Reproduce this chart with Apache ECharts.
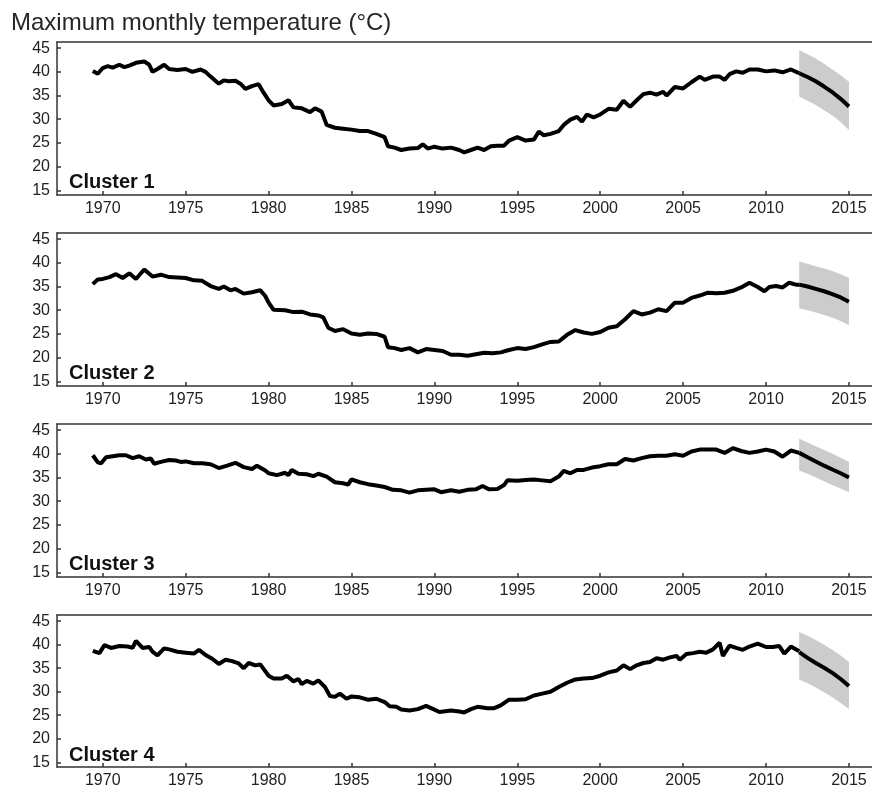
<!DOCTYPE html>
<html>
<head>
<meta charset="utf-8">
<script src="https://cdn.jsdelivr.net/npm/echarts@6/dist/echarts.min.js"></script>
<style>html,body{margin:0;padding:0;background:#fff}#c{width:872px;height:789px}</style>
</head>
<body>
<div id="c"></div>
<script>
// ---- DATA (year, temperature °C) ----
const titleText = 'Maximum monthly temperature (\u00B0C)';
const clusterNames = ['Cluster 1', 'Cluster 2', 'Cluster 3', 'Cluster 4'];
const xTicks = [1970, 1975, 1980, 1985, 1990, 1995, 2000, 2005, 2010, 2015];
const yTicks = [15, 20, 25, 30, 35, 40, 45];

const cluster1 = [[1969.4,40.2],[1969.7,39.6],[1970.0,40.8],[1970.3,41.2],[1970.6,40.9],[1971.0,41.5],[1971.3,41.0],[1971.6,41.3],[1972.0,41.9],[1972.5,42.2],[1972.8,41.5],[1973.0,40.0],[1973.3,40.6],[1973.7,41.5],[1974.0,40.6],[1974.5,40.4],[1975.0,40.6],[1975.4,40.0],[1975.9,40.5],[1976.2,40.0],[1976.5,39.0],[1977.0,37.5],[1977.3,38.2],[1977.6,38.0],[1978.0,38.1],[1978.3,37.5],[1978.6,36.4],[1979.0,37.0],[1979.4,37.4],[1979.7,35.6],[1980.0,34.0],[1980.3,32.9],[1980.8,33.2],[1981.2,34.0],[1981.5,32.5],[1982.0,32.3],[1982.5,31.5],[1982.8,32.3],[1983.2,31.6],[1983.5,28.8],[1984.0,28.2],[1984.5,28.0],[1985.0,27.8],[1985.5,27.5],[1986.0,27.5],[1986.5,26.9],[1987.0,26.2],[1987.2,24.3],[1987.6,24.0],[1988.0,23.5],[1988.5,23.8],[1989.0,23.9],[1989.3,24.7],[1989.6,23.8],[1990.0,24.2],[1990.5,23.8],[1991.0,24.0],[1991.5,23.5],[1991.8,23.0],[1992.2,23.5],[1992.6,24.0],[1993.0,23.5],[1993.4,24.3],[1993.8,24.4],[1994.2,24.4],[1994.5,25.5],[1995.0,26.2],[1995.5,25.5],[1996.0,25.7],[1996.3,27.4],[1996.6,26.6],[1997.0,26.9],[1997.5,27.5],[1997.8,28.8],[1998.2,29.9],[1998.6,30.5],[1998.9,29.5],[1999.2,31.0],[1999.6,30.4],[2000.0,31.0],[2000.5,32.2],[2001.0,32.0],[2001.4,33.9],[2001.8,32.6],[2002.2,34.0],[2002.6,35.3],[2003.0,35.6],[2003.4,35.2],[2003.8,35.8],[2004.0,35.0],[2004.5,36.8],[2005.0,36.5],[2005.5,37.8],[2006.0,39.0],[2006.3,38.3],[2006.8,39.0],[2007.2,39.0],[2007.5,38.3],[2007.8,39.5],[2008.2,40.1],[2008.6,39.8],[2009.0,40.5],[2009.5,40.5],[2010.0,40.1],[2010.5,40.3],[2011.0,39.9],[2011.5,40.5],[2012.0,39.7]];
const cluster2 = [[1969.4,35.5],[1969.7,36.5],[1970.0,36.6],[1970.4,37.0],[1970.8,37.6],[1971.2,36.8],[1971.6,37.8],[1972.0,36.6],[1972.5,38.6],[1973.0,37.1],[1973.5,37.5],[1974.0,37.0],[1974.5,36.9],[1975.0,36.8],[1975.5,36.3],[1976.0,36.2],[1976.5,35.1],[1977.0,34.5],[1977.3,35.0],[1977.7,34.2],[1978.0,34.5],[1978.5,33.5],[1979.0,33.8],[1979.5,34.2],[1979.8,33.0],[1980.0,31.6],[1980.3,30.1],[1981.0,30.0],[1981.5,29.6],[1982.0,29.7],[1982.5,29.1],[1983.0,28.9],[1983.3,28.5],[1983.6,26.3],[1984.0,25.6],[1984.5,26.0],[1985.0,25.1],[1985.5,24.8],[1986.0,25.1],[1986.5,25.0],[1987.0,24.4],[1987.2,22.2],[1987.6,22.0],[1988.0,21.6],[1988.5,22.0],[1989.0,21.1],[1989.5,21.8],[1990.0,21.6],[1990.5,21.4],[1991.0,20.6],[1991.5,20.6],[1992.0,20.4],[1992.5,20.7],[1993.0,21.0],[1993.5,20.9],[1994.0,21.1],[1994.5,21.6],[1995.0,22.0],[1995.5,21.8],[1996.0,22.2],[1996.5,22.8],[1997.0,23.3],[1997.5,23.4],[1998.0,24.8],[1998.5,25.8],[1999.0,25.3],[1999.5,25.0],[2000.0,25.4],[2000.5,26.3],[2001.0,26.6],[2001.5,28.1],[2002.0,29.8],[2002.5,29.1],[2003.0,29.5],[2003.5,30.2],[2004.0,29.8],[2004.5,31.6],[2005.0,31.6],[2005.5,32.6],[2006.0,33.1],[2006.5,33.7],[2007.0,33.6],[2007.5,33.7],[2008.0,34.1],[2008.5,34.8],[2009.0,35.8],[2009.5,34.9],[2009.9,34.0],[2010.2,34.9],[2010.6,35.1],[2011.0,34.8],[2011.4,35.8],[2011.8,35.4],[2012.0,35.4]];
const cluster3 = [[1969.4,39.7],[1969.7,38.2],[1969.9,38.0],[1970.2,39.3],[1970.6,39.5],[1971.0,39.7],[1971.4,39.7],[1971.8,39.1],[1972.2,39.5],[1972.6,38.8],[1972.9,39.0],[1973.1,37.9],[1973.5,38.3],[1974.0,38.7],[1974.4,38.6],[1974.7,38.3],[1975.0,38.4],[1975.5,38.0],[1976.0,38.0],[1976.5,37.8],[1977.0,37.0],[1977.5,37.5],[1978.0,38.1],[1978.5,37.2],[1979.0,36.8],[1979.3,37.5],[1979.8,36.5],[1980.0,35.9],[1980.5,35.5],[1981.0,36.0],[1981.2,35.5],[1981.4,36.6],[1981.8,35.8],[1982.3,35.7],[1982.7,35.3],[1983.0,35.8],[1983.5,35.2],[1984.0,34.0],[1984.5,33.8],[1984.8,33.5],[1985.0,34.6],[1985.5,34.0],[1986.0,33.6],[1986.5,33.3],[1987.0,33.0],[1987.5,32.4],[1988.0,32.3],[1988.5,31.8],[1989.0,32.3],[1989.5,32.4],[1990.0,32.5],[1990.4,31.9],[1991.0,32.3],[1991.5,32.0],[1992.0,32.4],[1992.5,32.5],[1992.9,33.2],[1993.3,32.5],[1993.8,32.6],[1994.2,33.4],[1994.4,34.4],[1995.0,34.3],[1995.5,34.5],[1996.0,34.6],[1996.5,34.4],[1997.0,34.2],[1997.5,35.2],[1997.8,36.4],[1998.2,35.9],[1998.6,36.6],[1999.0,36.6],[1999.5,37.1],[2000.0,37.4],[2000.5,37.8],[2001.0,37.8],[2001.5,38.9],[2002.0,38.6],[2002.5,39.1],[2003.0,39.5],[2003.5,39.6],[2004.0,39.6],[2004.5,39.9],[2005.0,39.6],[2005.5,40.5],[2006.0,40.9],[2006.5,40.9],[2007.0,40.9],[2007.5,40.2],[2008.0,41.2],[2008.5,40.6],[2009.0,40.2],[2009.5,40.5],[2010.0,40.9],[2010.5,40.5],[2011.0,39.4],[2011.5,40.7],[2012.0,40.2]];
const cluster4 = [[1969.4,38.7],[1969.8,38.2],[1970.1,39.9],[1970.5,39.3],[1971.0,39.7],[1971.5,39.6],[1971.8,39.3],[1972.0,40.8],[1972.4,39.3],[1972.8,39.5],[1973.0,38.5],[1973.3,37.7],[1973.7,39.2],[1974.0,39.0],[1974.5,38.5],[1975.0,38.3],[1975.5,38.1],[1975.8,38.9],[1976.2,37.8],[1976.6,37.0],[1977.0,35.9],[1977.4,36.8],[1977.8,36.5],[1978.2,36.0],[1978.5,35.0],[1978.8,36.1],[1979.2,35.6],[1979.5,35.8],[1980.0,33.4],[1980.3,32.8],[1980.8,32.8],[1981.1,33.4],[1981.5,32.2],[1981.8,32.7],[1982.0,31.6],[1982.3,32.3],[1982.7,31.7],[1983.0,32.4],[1983.4,31.0],[1983.7,29.1],[1984.0,28.9],[1984.3,29.6],[1984.7,28.5],[1985.0,29.0],[1985.5,28.8],[1986.0,28.3],[1986.5,28.5],[1987.0,27.8],[1987.3,26.9],[1987.7,26.8],[1988.0,26.2],[1988.5,26.0],[1989.0,26.3],[1989.5,27.0],[1989.8,26.5],[1990.0,26.2],[1990.3,25.7],[1991.0,26.0],[1991.5,25.8],[1991.8,25.6],[1992.2,26.3],[1992.6,26.8],[1993.2,26.5],[1993.6,26.5],[1994.0,27.1],[1994.5,28.3],[1995.0,28.3],[1995.5,28.4],[1996.0,29.2],[1996.5,29.6],[1997.0,30.0],[1997.5,31.0],[1998.0,31.9],[1998.5,32.6],[1999.0,32.8],[1999.5,32.9],[2000.0,33.4],[2000.5,34.1],[2001.0,34.5],[2001.4,35.6],[2001.8,34.8],[2002.2,35.6],[2002.6,36.1],[2003.0,36.3],[2003.4,37.1],[2003.8,36.8],[2004.2,37.3],[2004.6,37.6],[2004.8,36.8],[2005.2,38.0],[2005.6,38.2],[2006.0,38.5],[2006.4,38.3],[2006.8,39.0],[2007.2,40.4],[2007.4,37.6],[2007.8,39.8],[2008.2,39.3],[2008.6,38.9],[2009.0,39.6],[2009.5,40.2],[2010.0,39.5],[2010.4,39.5],[2010.8,39.7],[2011.1,38.1],[2011.5,39.6],[2012.0,38.6]];

// forecast 2012-2015
const fcYears = [2012, 2012.5, 2013, 2013.5, 2014, 2014.5, 2015];
const fcMean1 = [39.7, 38.9, 38.0, 36.9, 35.7, 34.3, 32.7];
const fcUpper1 = [44.6, 43.7, 42.8, 41.7, 40.5, 39.3, 37.9];
const fcLower1 = [34.8, 33.9, 33.0, 31.9, 30.8, 29.4, 27.7];
const fcMean2 = [35.4, 35.0, 34.5, 34.0, 33.4, 32.7, 31.8];
const fcUpper2 = [40.3, 39.8, 39.3, 38.8, 38.3, 37.6, 36.8];
const fcLower2 = [30.4, 30.0, 29.5, 29.0, 28.4, 27.7, 26.8];
const fcMean3 = [40.2, 39.3, 38.4, 37.5, 36.7, 35.9, 35.0];
const fcUpper3 = [43.2, 42.4, 41.6, 40.8, 40.0, 39.2, 38.3];
const fcLower3 = [36.5, 35.8, 35.0, 34.2, 33.4, 32.7, 31.9];
const fcMean4 = [38.4, 37.2, 36.1, 35.1, 34.0, 32.7, 31.2];
const fcUpper4 = [42.7, 41.9, 41.0, 40.0, 38.9, 37.7, 36.3];
const fcLower4 = [32.6, 31.8, 30.9, 29.9, 28.8, 27.6, 26.3];

// ---- CHART ----
const observed = [cluster1, cluster2, cluster3, cluster4];
const means = [fcMean1, fcMean2, fcMean3, fcMean4];
const uppers = [fcUpper1, fcUpper2, fcUpper3, fcUpper4];
const lowers = [fcLower1, fcLower2, fcLower3, fcLower4];

const FONT = '"Liberation Sans", Arial, sans-serif';
const gridTops = [42, 233, 424, 615];
const gridH = 153;
const gridLeft = 57;
const gridW = 815;
const X_MIN = 1967.24, X_MAX = 2016.39;
const Y_MIN = 14.0, Y_MAX = 46.3;
const AXIS_LINE = {show: true, onZero: false, lineStyle: {color: '#333', width: 1.5}};

const chart = echarts.init(document.getElementById('c'), null, {renderer: 'canvas'});

const grids = [], xAxes = [], yAxes = [], series = [], graphics = [];
gridTops.forEach((top, i) => {
  grids.push({left: gridLeft, top: top, width: gridW, height: gridH, show: false, containLabel: false});
  xAxes.push({type: 'value', gridIndex: i, position: 'bottom', min: X_MIN, max: X_MAX,
    splitLine: {show: false}, axisLine: AXIS_LINE,
    axisTick: {show: true, inside: true, length: 4, lineStyle: {color: '#333', width: 1.5}, customValues: xTicks},
    axisLabel: {show: true, margin: 6, color: '#222', fontSize: 16, fontFamily: FONT, customValues: xTicks,
      formatter: v => String(v)}});
  yAxes.push({type: 'value', gridIndex: i, min: Y_MIN, max: Y_MAX,
    splitLine: {show: false}, axisLine: AXIS_LINE,
    axisTick: {show: true, inside: true, length: 4, lineStyle: {color: '#333', width: 1.5}, customValues: yTicks},
    axisLabel: {show: true, margin: 7, color: '#222', fontSize: 16, fontFamily: FONT, customValues: yTicks,
      formatter: v => String(v)}});
});
// top frame lines (no ticks / labels)
gridTops.forEach((top, i) => {
  xAxes.push({type: 'value', gridIndex: i, position: 'top', min: X_MIN, max: X_MAX,
    splitLine: {show: false}, axisLine: AXIS_LINE, axisTick: {show: false}, axisLabel: {show: false}});
});

gridTops.forEach((top, i) => {
  const up = uppers[i], lo = lowers[i];
  series.push({type: 'custom', xAxisIndex: i, yAxisIndex: i, silent: true, z: 1,
    data: [[2013.5, 35]],
    renderItem: (params, api) => {
      const pts = [];
      for (let k = 0; k < fcYears.length; k++) pts.push(api.coord([fcYears[k], up[k]]));
      for (let k = fcYears.length - 1; k >= 0; k--) pts.push(api.coord([fcYears[k], lo[k]]));
      return {type: 'polygon', shape: {points: pts}, style: {fill: '#cccccc'}};
    }});
  series.push({type: 'line', xAxisIndex: i, yAxisIndex: i, data: observed[i], showSymbol: false,
    lineStyle: {color: '#000', width: 4}, z: 3, silent: true});
  series.push({type: 'line', xAxisIndex: i, yAxisIndex: i, showSymbol: false,
    data: fcYears.map((y, k) => [y, means[i][k]]),
    lineStyle: {color: '#000', width: 4}, z: 3, silent: true});

  graphics.push({type: 'text', left: 69, top: top + gridH - 23,
    style: {text: clusterNames[i], font: 'bold 20px ' + FONT, fill: '#111'}});
});

graphics.push({type: 'text', left: 11, top: 11,
  style: {text: titleText, font: '24px ' + FONT, fill: '#262626'}});

chart.setOption({
  animation: false,
  backgroundColor: '#fff',
  grid: grids, xAxis: xAxes, yAxis: yAxes, series: series, graphic: graphics
});
</script>
</body>
</html>
